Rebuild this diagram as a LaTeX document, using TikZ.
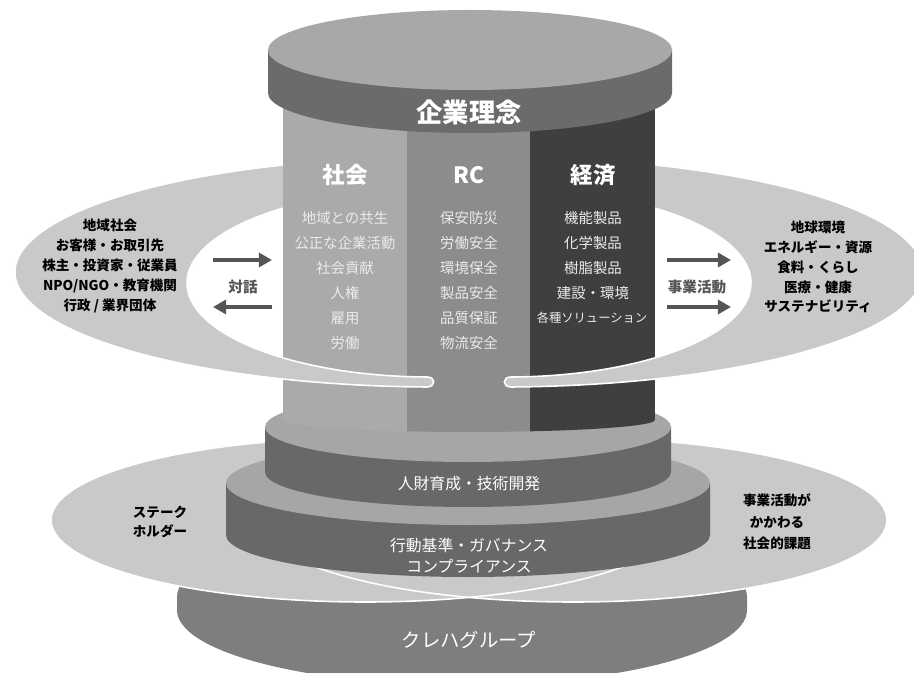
\documentclass[tikz,border=0pt]{standalone}
\usepackage{fontspec}
\setmainfont{Noto Sans CJK JP}
\usetikzlibrary{arrows.meta}

\definecolor{capface}{HTML}{A8A8A8}
\definecolor{capside}{HTML}{6B6B6B}
\definecolor{stepface}{HTML}{A6A6A6}
\definecolor{stepside}{HTML}{686868}
\definecolor{baseside}{HTML}{7E7E7E}
\definecolor{ringgray}{HTML}{C9C9C9}
\definecolor{colsoc}{HTML}{AAAAAA}
\definecolor{colrc}{HTML}{8C8C8C}
\definecolor{coleco}{HTML}{3F3F3F}
\definecolor{arrowgray}{HTML}{555555}

\begin{document}
\begin{tikzpicture}[
  x=0.2mm, y=0.2mm, % 1単位 = 元画像の1ピクセル
  captext/.style={text=white, font=\fontsize{15}{17}\selectfont\bfseries, inner sep=1pt},
  colhead/.style={text=white, font=\fontsize{12.8}{15}\selectfont\bfseries, inner sep=1pt},
  colitem/.style={text=white!92!black, font=\fontsize{8.2}{10}\selectfont, inner sep=1pt},
  party/.style={text=black, font=\fontsize{7.7}{11.3}\selectfont\bfseries, align=center, inner sep=1pt},
  flowtext/.style={text=arrowgray, font=\fontsize{8.3}{10}\selectfont\bfseries, inner sep=1pt},
  bandtext/.style={text=white, font=\fontsize{9}{12}\selectfont, align=center, inner sep=1pt},
  flow/.style={draw=arrowgray, line width=2.3pt, -{Triangle[length=7.5pt, width=8pt]}},
  lobe/.style={fill=ringgray, draw=white, line width=0.9pt}
]
  \fill[white] (0,0) rectangle (914,672);
  \useasboundingbox (0,0) rectangle (914,672);
  \clip (0,0) rectangle (914,672);

  % 円盤一段:#1 中心x, #2 x半径, #3 上面y, #4 底面y, #5 y半径, #6 上面色, #7 側面色
  \newcommand{\diskstep}[7]{%
    \fill[#7] ({#1-#2},#3) -- ({#1-#2},#4) arc[start angle=180, end angle=360, x radius=#2, y radius=#5] -- ({#1+#2},#3) -- cycle;
    \fill[#6] (#1,#3) ellipse[x radius=#2, y radius=#5];
  }
  % 左の輪(右は鏡像)
  \newcommand{\lobepath}{(300.3,508.7) arc[start angle=109, end angle=268.5, x radius=423, y radius=115]
    .. controls +(9,0) and +(9,0) .. (427,295)
    arc[start angle=269.3, end angle=122, x radius=243, y radius=94] -- cycle}

  % 土台(クレハグループ)
  \fill[baseside] (177,75) -- (177,62) arc[start angle=180, end angle=360, x radius=285, y radius=75]
    -- (747,75) arc[start angle=0, end angle=180, x radius=285, y radius=75] -- cycle;

  % 下の二つの楕円
  \fill[ringgray] (365,152) ellipse[x radius=314, y radius=82];
  \fill[ringgray] (573,152) ellipse[x radius=314, y radius=82];
  \draw[white, line width=0.9pt] (365,152) ellipse[x radius=314, y radius=82];
  \draw[white, line width=0.9pt] (573,152) ellipse[x radius=314, y radius=82];

  % 段
  \diskstep{468}{242}{189}{137}{42}{stepface}{stepside}
  \diskstep{468}{203}{245}{200}{35}{stepface}{stepside}

  % 上の輪(後ろ側)
  \path[lobe] \lobepath;
  \begin{scope}[shift={(938,0)}, xscale=-1]
    \path[lobe] \lobepath;
  \end{scope}

  % 三本の柱
  \begin{scope}
    \clip (283,577) -- (283,252) arc[start angle=180, end angle=360, x radius=186, y radius=12] -- (655,577) -- cycle;
    \fill[colsoc] (283,230) rectangle (407,580);
    \fill[colrc]  (407,230) rectangle (530,580);
    \fill[coleco] (530,230) rectangle (655,580);
  \end{scope}

  % 屋根(企業理念)
  \diskstep{470}{202}{622}{579}{40}{capface}{capside}

  % 上の輪(手前の尾)
  \begin{scope}
    \clip (0,0) rectangle (914,342);
    \path[lobe] \lobepath;
    \begin{scope}[shift={(938,0)}, xscale=-1]
      \path[lobe] \lobepath;
    \end{scope}
  \end{scope}

  % 文字
  \node[captext] (rinen) at (469,560) {企業理念};
  \node[colhead] (hSoc) at (345,497) {社会};
  \node[colhead] (hRC)  at (469,497) {RC};
  \node[colhead] (hEco) at (593,497) {経済};
  \foreach [count=\i] \t in {地域との共生,公正な企業活動,社会貢献,人権,雇用,労働}
    \node[colitem] (soc\i) at (345,{479-25*\i}) {\t};
  \foreach [count=\i] \t in {保安防災,労働安全,環境保全,製品安全,品質保証,物流安全}
    \node[colitem] (rc\i) at (469,{479-25*\i}) {\t};
  \foreach [count=\i] \t in {機能製品,化学製品,樹脂製品,建設・環境}
    \node[colitem] (eco\i) at (593,{479-25*\i}) {\t};
  \node[colitem, font=\fontsize{7}{9}\selectfont] (eco5) at (592,354) {各種ソリューション};

  \node[party] (partyL) at (110,406) {地域社会\\お客様・お取引先\\株主・投資家・従業員\\NPO/NGO・教育機関\\行政 / 業界団体};
  \node[party] (partyR) at (818,405) {地球環境\\エネルギー・資源\\食料・くらし\\医療・健康\\サステナビリティ};
  \node[party] (stake) at (160,150) {ステーク\\ホルダー};
  \node[party, font=\fontsize{7.7}{12.2}\selectfont\bfseries] (issue) at (777,150) {事業活動が\\かかわる\\社会的課題};

  \node[flowtext] (dialog) at (243,385) {対話};
  \node[flowtext] (business) at (697,385) {事業活動};

  \node[bandtext] (hr) at (469,188) {人財育成・技術開発};
  \node[bandtext] (gov) at (469,116.5) {行動基準・ガバナンス\\コンプライアンス};
  \node[bandtext, font=\fontsize{11}{13}\selectfont] (group) at (469,32) {クレハグループ};

  % 矢印
  \coordinate (dlgA1) at (213,412); \coordinate (dlgB1) at (272,412);
  \coordinate (dlgA2) at (213,365); \coordinate (dlgB2) at (272,365);
  \coordinate (bizA1) at (667,412); \coordinate (bizB1) at (731,412);
  \coordinate (bizA2) at (667,365); \coordinate (bizB2) at (731,365);
  \draw[flow] (dlgA1) -- (dlgB1);
  \draw[flow] (dlgB2) -- (dlgA2);
  \draw[flow] (bizA1) -- (bizB1);
  \draw[flow] (bizA2) -- (bizB2);
\end{tikzpicture}
\end{document}
